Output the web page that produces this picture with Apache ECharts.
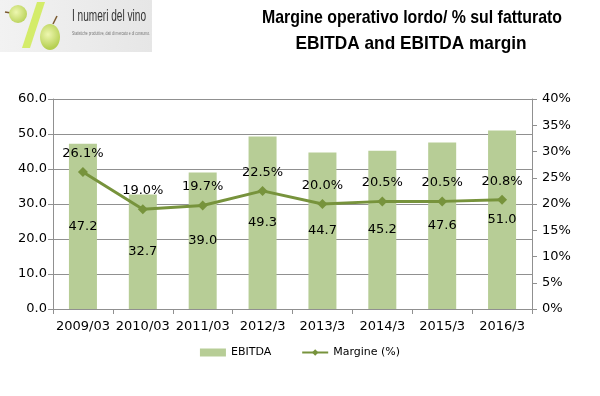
<!DOCTYPE html>
<html>
<head>
<meta charset="utf-8">
<script src="https://cdn.jsdelivr.net/npm/echarts@6/dist/echarts.min.js"></script>
<style>
  html, body { margin: 0; padding: 0; background: #fff; }
  #chart { width: 600px; height: 396px; }
</style>
</head>
<body>
<div id="chart"></div>
<script>
var years = ['2009/03', '2010/03', '2011/03', '2012/3', '2013/3', '2014/3', '2015/3', '2016/3'];
var ebitda = [47.2, 32.7, 39.0, 49.3, 44.7, 45.2, 47.6, 51.0];
var margine = [26.1, 19.0, 19.7, 22.5, 20.0, 20.5, 20.5, 20.8];

var myChart = echarts.init(document.getElementById('chart'));
var txt = '#000';
var gridCol = '#909090';

// testo "stretto": misuro e comprimo in orizzontale
var ctx = document.createElement('canvas').getContext('2d');
function narrowText(str, font, cx, top, targetW, align, color) {
  ctx.font = font;
  var w = ctx.measureText(str).width;
  var sx = targetW / w;
  var x = align === 'center' ? cx - targetW / 2 : cx;
  return {
    type: 'text', x: x, y: top, scaleX: sx, z: 5,
    style: { text: str, font: font, fill: color, textVerticalAlign: 'top' }
  };
}

var grape = new echarts.graphic.RadialGradient(0.4, 0.4, 0.7, [
  { offset: 0, color: '#eef7b0' },
  { offset: 1, color: '#b5cf52' }
]);

option = {
  animation: false,
  textStyle: { fontFamily: 'DejaVu Sans' },
  graphic: [
    {
      type: 'rect', left: 0, top: 0, z: 0,
      shape: { width: 152, height: 52 },
      style: {
        fill: new echarts.graphic.LinearGradient(0, 0, 1, 0, [
          { offset: 0, color: '#f2f2f2' },
          { offset: 1, color: '#e6e6e6' }
        ])
      }
    },
    {
      type: 'polygon', z: 1,
      shape: { points: [[37, 2], [45, 2], [30, 48], [22, 48]] },
      style: { fill: '#d4ec6a' }
    },
    {
      type: 'line', z: 1,
      shape: { x1: 5, y1: 12, x2: 11, y2: 13 },
      style: { stroke: '#7a5a30', lineWidth: 1.5 }
    },
    {
      type: 'circle', z: 2,
      shape: { cx: 18, cy: 14, r: 9 },
      style: { fill: grape }
    },
    {
      type: 'line', z: 1,
      shape: { x1: 53, y1: 24, x2: 57, y2: 16 },
      style: { stroke: '#7a5a30', lineWidth: 1.5 }
    },
    {
      type: 'ellipse', z: 2,
      shape: { cx: 50, cy: 37, rx: 10, ry: 13 },
      style: { fill: grape }
    },
    narrowText('I numeri del vino', '16px "Liberation Sans"', 72, 9, 74, 'left', '#333'),
    narrowText('Statistiche produttive, dati di mercato e di consumo.', '5px "Liberation Sans"', 72, 31, 78, 'left', '#777'),
    // titolo
    narrowText('Margine operativo lordo/ % sul fatturato', 'bold 19px "Liberation Sans"', 412, 8, 300, 'center', '#000'),
    narrowText('EBITDA and EBITDA margin', 'bold 19px "Liberation Sans"', 411, 34, 231, 'center', '#000')
  ],
  legend: {
    bottom: 33,
    left: 'center',
    itemGap: 30,
    itemWidth: 26,
    itemHeight: 8,
    textStyle: { color: txt, fontSize: 11, fontFamily: 'DejaVu Sans' },
    data: [
      { name: 'EBITDA', icon: 'rect' },
      { name: 'Margine (%)' }
    ]
  },
  grid: { left: 53, right: 68, top: 99, bottom: 87 },
  xAxis: {
    type: 'category',
    data: years,
    axisLine: { lineStyle: { color: gridCol } },
    axisTick: { show: true, length: 5, lineStyle: { color: gridCol } },
    axisLabel: { color: txt, fontSize: 13, margin: 11, interval: 0 }
  },
  yAxis: [
    {
      type: 'value',
      min: 0, max: 60, interval: 10,
      axisLine: { show: true, lineStyle: { color: gridCol } },
      axisTick: { show: true, length: 5, lineStyle: { color: gridCol } },
      splitLine: { lineStyle: { color: gridCol } },
      axisLabel: {
        color: txt, fontSize: 13, margin: 6,
        formatter: function (v) { return v.toFixed(1); }
      }
    },
    {
      type: 'value',
      min: 0, max: 40, interval: 5,
      axisLine: { show: true, lineStyle: { color: gridCol } },
      axisTick: { show: true, length: 5, lineStyle: { color: gridCol } },
      splitLine: { show: false },
      axisLabel: { color: txt, fontSize: 13, margin: 10, formatter: '{value}%' }
    }
  ],
  series: [
    {
      name: 'EBITDA',
      type: 'bar',
      barWidth: 28,
      itemStyle: { color: '#b7cd96' },
      label: {
        show: true,
        position: 'inside',
        color: txt,
        fontSize: 13,
        formatter: function (p) { return p.value.toFixed(1); }
      },
      data: ebitda
    },
    {
      name: 'Margine (%)',
      type: 'line',
      yAxisIndex: 1,
      symbol: 'diamond',
      symbolSize: 10,
      itemStyle: { color: '#77933c' },
      lineStyle: { color: '#77933c', width: 3 },
      label: {
        show: true,
        position: 'top',
        distance: 7,
        color: txt,
        fontSize: 13,
        formatter: function (p) { return p.value.toFixed(1) + '%'; }
      },
      z: 10,
      data: margine
    }
  ]
};
myChart.setOption(option);
</script>
</body>
</html>
